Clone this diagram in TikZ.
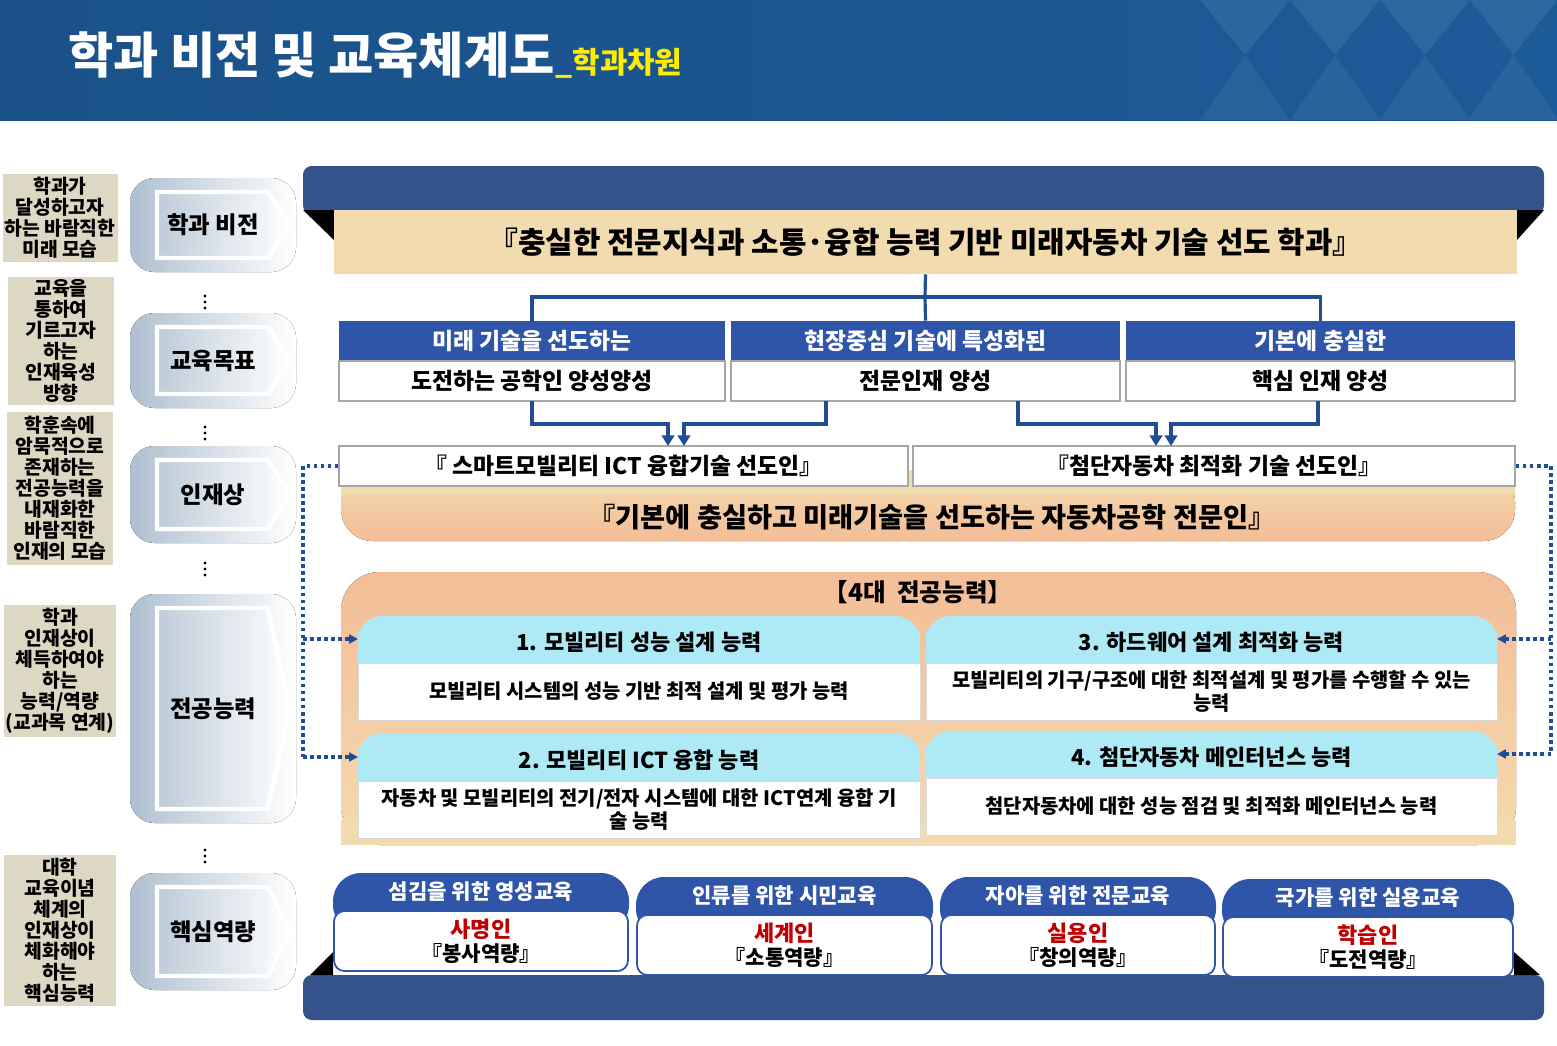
\documentclass[tikz,border=0pt]{standalone}
\usepackage{fontspec}
\setmainfont{Noto Sans CJK KR}
\usetikzlibrary{arrows.meta}
\definecolor{hdblue}{HTML}{1D5A98}
\definecolor{bandblue}{HTML}{34538A}
\definecolor{goalblue}{HTML}{2F55A9}
\definecolor{linkblue}{HTML}{1F4E96}
\definecolor{cream}{HTML}{F3DBB0}
\definecolor{peach}{HTML}{F3BD97}
\definecolor{tan}{HTML}{DDD8C4}
\definecolor{sky}{HTML}{AEEAF6}
\definecolor{chev}{HTML}{AEBFD0}
\definecolor{namered}{HTML}{C00000}

\tikzset{
  lefttag/.style={fill=tan, inner sep=0pt, align=center, font=\fontsize{11}{12}\selectfont\bfseries},
  goalhead/.style={fill=goalblue, text=white, font=\fontsize{13}{15}\selectfont\bfseries},
  goalbody/.style={fill=white, draw=gray!70, line width=1pt, font=\fontsize{13}{15}\selectfont\bfseries},
  abilbody/.style={fill=white, draw=gray!30, font=\fontsize{11.3}{13.5}\selectfont\bfseries},
  link/.style={linkblue, line width=1.8pt},
  dotlink/.style={linkblue, line width=2pt, dash pattern=on 2pt off 2pt, -{Triangle[length=5pt,width=5pt]}},
}

\begin{document}
\begin{tikzpicture}[x=0.02cm, y=-0.02cm]
\useasboundingbox (0,0) rectangle (1557,1045);

% header
\fill[left color=hdblue!90!black, right color=hdblue] (0,0) rectangle (1557,120);
\foreach \a/\b in {1200/1290, 1290/1380, 1380/1470, 1470/1557} {
  \fill[white, opacity=0.08] (\a,0) -- (\b,0) -- ({(\a+\b)/2},55) -- cycle;
  \fill[white, opacity=0.06] ({(\a+\b)/2},55) -- ({(\a+\b)/2+45},120) -- ({(\a+\b)/2-45},120) -- cycle;
}
\node[anchor=west, text=white, font=\fontsize{28}{30}\selectfont\bfseries, inner sep=0pt] (title) at (68,55) {학과 비전 및 교육체계도};
\node[anchor=base west, text=yellow!95!orange, font=\fontsize{17}{19}\selectfont\bfseries, inner sep=0pt] (subtitle) at (title.base east) {\_학과차원};

% left tags
\node[lefttag, minimum width=115*0.02cm, minimum height=88*0.02cm] (t1) at (60,218) {학과가\\달성하고자\\하는 바람직한\\미래 모습};
\node[lefttag, minimum width=106*0.02cm, minimum height=128*0.02cm] (t2) at (61,341) {교육을\\통하여\\기르고자\\하는\\인재육성\\방향};
\node[lefttag, minimum width=106*0.02cm, minimum height=153*0.02cm] (t3) at (60,488) {학훈속에\\암묵적으로\\존재하는\\전공능력을\\내재화한\\바람직한\\인재의 모습};
\node[lefttag, minimum width=112*0.02cm, minimum height=132*0.02cm] (t4) at (60,671) {학과\\인재상이\\체득하여야\\하는\\능력/역량\\(교과목 연계)};
\node[lefttag, minimum width=112*0.02cm, minimum height=151*0.02cm] (t5) at (60,930) {대학\\교육이념\\체계의\\인재상이\\체화해야\\하는\\핵심능력};

% chevrons
\foreach \ya/\yb/\txt/\nm in {178/272/학과 비전/c1, 313/408/교육목표/c2, 446/543/인재상/c3, 594/823/전공능력/c4, 873/990/핵심역량/c5} {
  \fill[left color=chev, right color=white, rounded corners=14pt] (130,\ya) rectangle (296,\yb);
  \filldraw[draw=white, line width=2.5pt, left color=chev!80, right color=white]
    (157,\ya+14) -- (268,\ya+14) -- (290,{(\ya+\yb)/2}) -- (268,\yb-14) -- (157,\yb-14) -- cycle;
  \node[font=\fontsize{13.3}{15}\selectfont\bfseries] (\nm) at (213,{(\ya+\yb)/2}) {\txt};
}
\foreach \y in {302,433,569,856}
  \foreach \d in {-6,0,6}
    \fill (205,\y+\d) circle (1.6);

% vision banner
\fill[bandblue, rounded corners=5pt] (303,166) rectangle (1544,214);
\fill[black] (303,210) -- (334,210) -- (334,240) -- cycle;
\fill[black] (1544,210) -- (1517,210) -- (1517,240) -- cycle;
\node[fill=cream, minimum width=1183*0.02cm, minimum height=64*0.02cm, font=\fontsize{17}{19}\selectfont\bfseries] (vision) at (925.5,242) {『충실한 전문지식과 소통·융합 능력 기반 미래자동차 기술 선도 학과』};

% goals
\foreach \xa/\xb/\hd/\bd/\nm in {339/725/미래 기술을 선도하는/도전하는 공학인 양성양성/g1, 731/1120/현장중심 기술에 특성화된/전문인재 양성/g2, 1126/1515/기본에 충실한/핵심 인재 양성/g3} {
  \node[goalhead, minimum width={(\xb-\xa)*0.02cm}, minimum height=40*0.02cm] (\nm h) at ({(\xa+\xb)/2},341) {\hd};
  \node[goalbody, minimum width={(\xb-\xa)*0.02cm}, minimum height=40*0.02cm] (\nm) at ({(\xa+\xb)/2},381) {\bd};
}
\coordinate (split) at (925,297);
\draw[link] (vision.south) -- (split);
\draw[link] (g1h.north) |- (split) -| (g3h.north);
\draw[link] (split) -- (g2h.north);

% talents
\fill[top color=cream, bottom color=peach, rounded corners=18pt] (341,470) rectangle (1515,541);
\fill[cream] (341,470) rectangle (1515,495);
\node[goalbody, minimum width=569*0.02cm, minimum height=40*0.02cm] (p1) at (623.5,466) {『 스마트모빌리티 ICT 융합기술 선도인』};
\node[goalbody, minimum width=602*0.02cm, minimum height=40*0.02cm] (p2) at (1214,466) {『첨단자동차 최적화 기술 선도인』};
\node[font=\fontsize{15.5}{17}\selectfont\bfseries] (pall) at (932,517) {『기본에 충실하고 미래기술을 선도하는 자동차공학 전문인』};

\foreach \gx/\px in {532/668, 826/684, 1018/1156, 1318/1171}
  \draw[link, -{Triangle[length=6pt,width=7pt]}] (\gx,401) -- (\gx,424) -- (\px,424) -- (\px,446);

% competencies
\fill[top color=peach, bottom color=cream, rounded corners=22pt] (341,572) rectangle (1516,845);
\fill[cream] (341,820) rectangle (1516,845);
\node[font=\fontsize{14}{16}\selectfont\bfseries] (comp) at (918,592) {【4대\ \ 전공능력】};
\foreach \xa/\xb/\ya/\yh/\yb/\hd/\bd/\nm in {
  358/920/616/663/720/{1. 모빌리티 성능 설계 능력}/{모빌리티 시스템의 성능 기반 최적 설계 및 평가 능력}/a1,
  926/1497/616/663/720/{3. 하드웨어 설계 최적화 능력}/{모빌리티의 기구/구조에 대한 최적설계 및 평가를 수행할 수 있는\\능력}/a3,
  358/920/733/781/838/{2. 모빌리티 ICT 융합 능력}/{자동차 및 모빌리티의 전기/전자 시스템에 대한 ICT연계 융합 기\\술 능력}/a2,
  926/1497/731/778/835/{4. 첨단자동차 메인터넌스 능력}/{첨단자동차에 대한 성능 점검 및 최적화 메인터넌스 능력}/a4} {
  \fill[sky, rounded corners=14pt] (\xa,\ya) rectangle (\xb,\yh);
  \fill[sky] (\xa,\ya+15) rectangle (\xb,\yh);
  \node[font=\fontsize{12.5}{14}\selectfont\bfseries] (\nm h) at ({(\xa+\xb)/2},{(\ya+\yh)/2+3}) {\hd};
  \node[abilbody, align=center, minimum width={(\xb-\xa)*0.02cm}, minimum height={(\yb-\yh)*0.02cm}] (\nm) at ({(\xa+\xb)/2},{(\yh+\yb)/2}) {\bd};
}
\coordinate (dl) at (303,466);
\coordinate (dr) at (1551,466);
\draw[dotlink, -] (p1.west) -- (dl) -- (303,757);
\draw[dotlink] (303,639) -- (358,639);
\draw[dotlink] (303,757) -- (358,757);
\draw[dotlink, -] (p2.east) -- (dr) -- (1551,754);
\draw[dotlink] (1551,639) -- (1497,639);
\draw[dotlink] (1551,754) -- (1497,754);

% core competencies
\fill[bandblue, rounded corners=5pt] (303,975) rectangle (1544,1020);
\fill[black] (310,975) -- (333,975) -- (333,952) -- cycle;
\fill[black] (1540,975) -- (1514,975) -- (1514,952) -- cycle;
\foreach \xa/\xb/\ya/\hd/\nmr/\cap/\nm in {
  333/629/873/섬김을 위한 영성교육/사명인/봉사역량/k1,
  636/933/877/인류를 위한 시민교육/세계인/소통역량/k2,
  940/1216/877/자아를 위한 전문교육/실용인/창의역량/k3,
  1222/1514/879/국가를 위한 실용교육/학습인/도전역량/k4} {
  \fill[goalblue, rounded corners=16pt] (\xa,\ya) rectangle (\xb,\ya+60);
  \filldraw[fill=white, draw=goalblue, line width=1pt, rounded corners=6pt] (\xa+1,\ya+38) rectangle (\xb-1,\ya+98);
  \node[text=white, font=\fontsize{12}{14}\selectfont\bfseries] (\nm h) at ({(\xa+\xb)/2},\ya+19) {\hd};
  \node[text=namered, font=\fontsize{12.5}{14}\selectfont\bfseries, inner sep=0pt] (\nm) at ({(\xa+\xb)/2},\ya+56) {\nmr};
  \node[font=\fontsize{12}{14}\selectfont\bfseries, inner sep=0pt] (\nm c) at ({(\xa+\xb)/2},\ya+80) {『\cap』};
}
\end{tikzpicture}
\end{document}
